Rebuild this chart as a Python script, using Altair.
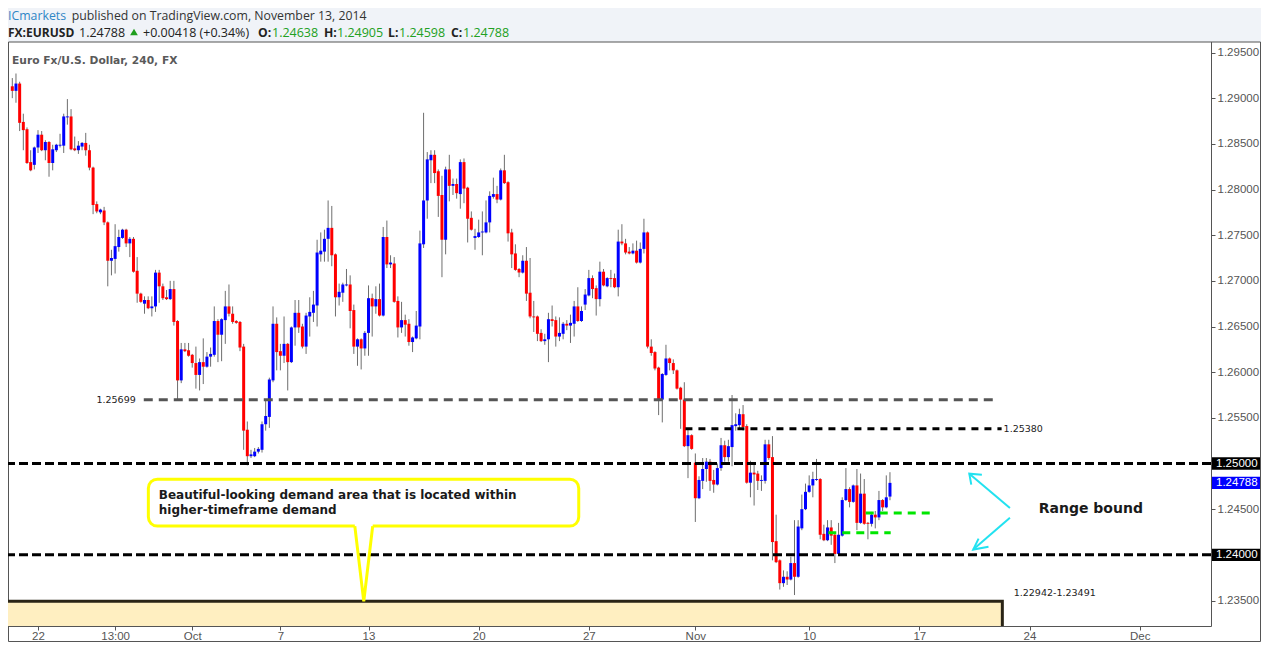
import json
import altair as alt
import pandas as pd

# ---------------- data (EURUSD, 4H candles) ----------------
OPEN = [
    1.2913, 1.2908, 1.2916, 1.2874, 1.2866, 1.2830, 1.2827, 1.2846, 1.2860, 1.2843,
    1.2852, 1.2829, 1.2843, 1.2848, 1.2848, 1.2879, 1.2880, 1.2845, 1.2843, 1.2847,
    1.2851, 1.2843, 1.2824, 1.2784, 1.2775, 1.2777, 1.2764, 1.2722, 1.2724, 1.2737,
    1.2747, 1.2756, 1.2741, 1.2746, 1.2711, 1.2686, 1.2675, 1.2679, 1.2670, 1.2672,
    1.2709, 1.2694, 1.2682, 1.2680, 1.2691, 1.2656, 1.2591, 1.2625, 1.2624, 1.2619,
    1.2610, 1.2597, 1.2611, 1.2606, 1.2617, 1.2619, 1.2656, 1.2641, 1.2657, 1.2672,
    1.2664, 1.2656, 1.2655, 1.2628, 1.2537, 1.2508, 1.2508, 1.2513, 1.2515, 1.2543,
    1.2551, 1.2591, 1.2653, 1.2623, 1.2618, 1.2631, 1.2611, 1.2649, 1.2665, 1.2650,
    1.2628, 1.2661, 1.2665, 1.2673, 1.2729, 1.2732, 1.2746, 1.2758, 1.2729, 1.2682,
    1.2687, 1.2695, 1.2696, 1.2668, 1.2628, 1.2636, 1.2626, 1.2643, 1.2681, 1.2672,
    1.2680, 1.2662, 1.2748, 1.2718, 1.2719, 1.2678, 1.2649, 1.2657, 1.2653, 1.2633,
    1.2637, 1.2650, 1.2740, 1.2788, 1.2832, 1.2838, 1.2820, 1.2794, 1.2745, 1.2822,
    1.2804, 1.2806, 1.2795, 1.2830, 1.2802, 1.2769, 1.2747, 1.2748, 1.2753, 1.2753,
    1.2764, 1.2792, 1.2795, 1.2789, 1.2821, 1.2808, 1.2753, 1.2730, 1.2713, 1.2709,
    1.2722, 1.2687, 1.2661, 1.2661, 1.2643, 1.2634, 1.2636, 1.2658, 1.2657, 1.2639,
    1.2642, 1.2653, 1.2651, 1.2653, 1.2672, 1.2656, 1.2674, 1.2684, 1.2703, 1.2692,
    1.2680, 1.2710, 1.2694, 1.2703, 1.2703, 1.2693, 1.2743, 1.2741, 1.2732, 1.2730,
    1.2733, 1.2720, 1.2735, 1.2753, 1.2628, 1.2622, 1.2605, 1.2570, 1.2597, 1.2615,
    1.2610, 1.2602, 1.2583, 1.2570, 1.2519, 1.2531, 1.2501, 1.2462, 1.2481, 1.2494,
    1.2502, 1.2482, 1.2477, 1.2495, 1.2520, 1.2507, 1.2518, 1.2541, 1.2542, 1.2554,
    1.2541, 1.2479, 1.2490, 1.2489, 1.2481, 1.2481, 1.2521, 1.2507, 1.2415, 1.2394,
    1.2369, 1.2376, 1.2373, 1.2391, 1.2376, 1.2429, 1.2450, 1.2469, 1.2476, 1.2482,
    1.2483, 1.2423, 1.2416, 1.2430, 1.2422, 1.2401, 1.2421, 1.2460, 1.2472, 1.2458,
    1.2476, 1.2435, 1.2467, 1.2435, 1.2434, 1.2444, 1.2441, 1.2460, 1.2452, 1.24638,
]
HIGH = [
    1.2922, 1.2927, 1.2918, 1.2883, 1.2868, 1.2843, 1.2847, 1.2865, 1.2864, 1.2854,
    1.2853, 1.2849, 1.2850, 1.2861, 1.2883, 1.2899, 1.2888, 1.2858, 1.2853, 1.2852,
    1.2862, 1.2849, 1.2825, 1.2787, 1.2779, 1.2781, 1.2765, 1.2734, 1.2762, 1.2756,
    1.2757, 1.2757, 1.2748, 1.2748, 1.2726, 1.2687, 1.2683, 1.2683, 1.2683, 1.2712,
    1.2712, 1.2697, 1.2690, 1.2700, 1.2700, 1.2657, 1.2632, 1.2632, 1.2632, 1.2620,
    1.2628, 1.2615, 1.2637, 1.2622, 1.2627, 1.2672, 1.2658, 1.2659, 1.2689, 1.2696,
    1.2672, 1.2657, 1.2656, 1.2631, 1.2546, 1.2515, 1.2517, 1.2518, 1.2546, 1.2569,
    1.2594, 1.2672, 1.2660, 1.2631, 1.2661, 1.2632, 1.2650, 1.2679, 1.2679, 1.2653,
    1.2665, 1.2682, 1.2689, 1.2745, 1.2753, 1.2756, 1.2788, 1.2782, 1.2730, 1.2697,
    1.2698, 1.2713, 1.2706, 1.2674, 1.2637, 1.2637, 1.2645, 1.2695, 1.2686, 1.2694,
    1.2697, 1.2759, 1.2766, 1.2728, 1.2726, 1.2683, 1.2677, 1.2663, 1.2658, 1.2639,
    1.2667, 1.2755, 1.2884, 1.2841, 1.2843, 1.2843, 1.2822, 1.2815, 1.2825, 1.2838,
    1.2812, 1.2812, 1.2833, 1.2834, 1.2803, 1.2776, 1.2757, 1.2767, 1.2776, 1.2788,
    1.2798, 1.2813, 1.2804, 1.2823, 1.2838, 1.2809, 1.2757, 1.2740, 1.2714, 1.2728,
    1.2737, 1.2725, 1.2678, 1.2662, 1.2647, 1.2642, 1.2665, 1.2673, 1.2661, 1.2660,
    1.2655, 1.2657, 1.2663, 1.2678, 1.2693, 1.2672, 1.2691, 1.2712, 1.2706, 1.2695,
    1.2721, 1.2713, 1.2704, 1.2712, 1.2708, 1.2756, 1.2762, 1.2746, 1.2737, 1.2741,
    1.2744, 1.2742, 1.2768, 1.2754, 1.2636, 1.2623, 1.2606, 1.2599, 1.2630, 1.2616,
    1.2614, 1.2603, 1.2584, 1.2589, 1.2537, 1.2532, 1.2511, 1.2486, 1.2506, 1.2506,
    1.2505, 1.2493, 1.2500, 1.2528, 1.2525, 1.2526, 1.2575, 1.2555, 1.2560, 1.2564,
    1.2543, 1.2503, 1.2500, 1.2492, 1.2487, 1.2526, 1.2526, 1.2530, 1.2444, 1.2395,
    1.2383, 1.2382, 1.2398, 1.2438, 1.2438, 1.2466, 1.2478, 1.2487, 1.2491, 1.2505,
    1.2484, 1.2433, 1.2438, 1.2438, 1.2423, 1.2435, 1.2463, 1.2495, 1.2474, 1.2477,
    1.2494, 1.2489, 1.2483, 1.2436, 1.2447, 1.2448, 1.2470, 1.2461, 1.2487, 1.24905,
]
LOW = [
    1.2900, 1.2895, 1.2864, 1.2843, 1.2828, 1.2820, 1.2822, 1.2840, 1.2842, 1.2832,
    1.2814, 1.2821, 1.2841, 1.2846, 1.2840, 1.2871, 1.2843, 1.2842, 1.2839, 1.2843,
    1.2837, 1.2821, 1.2773, 1.2774, 1.2773, 1.2761, 1.2694, 1.2706, 1.2708, 1.2732,
    1.2746, 1.2737, 1.2726, 1.2709, 1.2676, 1.2676, 1.2664, 1.2669, 1.2661, 1.2666,
    1.2676, 1.2679, 1.2679, 1.2679, 1.2651, 1.2569, 1.2588, 1.2622, 1.2617, 1.2605,
    1.2582, 1.2580, 1.2587, 1.2605, 1.2606, 1.2617, 1.2611, 1.2612, 1.2631, 1.2661,
    1.2653, 1.2653, 1.2623, 1.2515, 1.2498, 1.2506, 1.2507, 1.2511, 1.2512, 1.2536,
    1.2539, 1.2589, 1.2602, 1.2602, 1.2610, 1.2580, 1.2610, 1.2629, 1.2643, 1.2626,
    1.2620, 1.2639, 1.2655, 1.2650, 1.2721, 1.2721, 1.2721, 1.2716, 1.2661, 1.2673,
    1.2677, 1.2694, 1.2648, 1.2620, 1.2607, 1.2603, 1.2618, 1.2618, 1.2639, 1.2664,
    1.2661, 1.2661, 1.2714, 1.2714, 1.2676, 1.2638, 1.2643, 1.2639, 1.2629, 1.2622,
    1.2636, 1.2636, 1.2736, 1.2768, 1.2807, 1.2807, 1.2770, 1.2704, 1.2729, 1.2787,
    1.2794, 1.2790, 1.2779, 1.2785, 1.2742, 1.2755, 1.2734, 1.2747, 1.2728, 1.2752,
    1.2753, 1.2790, 1.2785, 1.2788, 1.2806, 1.2743, 1.2714, 1.2711, 1.2704, 1.2708,
    1.2678, 1.2659, 1.2644, 1.2634, 1.2633, 1.2630, 1.2611, 1.2650, 1.2628, 1.2634,
    1.2636, 1.2646, 1.2632, 1.2639, 1.2655, 1.2655, 1.2668, 1.2683, 1.2681, 1.2662,
    1.2672, 1.2694, 1.2693, 1.2693, 1.2692, 1.2683, 1.2739, 1.2729, 1.2729, 1.2729,
    1.2719, 1.2719, 1.2730, 1.2626, 1.2618, 1.2602, 1.2553, 1.2545, 1.2596, 1.2602,
    1.2598, 1.2581, 1.2538, 1.2518, 1.2484, 1.2515, 1.2436, 1.2461, 1.2472, 1.2480,
    1.2470, 1.2468, 1.2476, 1.2492, 1.2502, 1.2502, 1.2497, 1.2536, 1.2537, 1.2536,
    1.2478, 1.2463, 1.2454, 1.2471, 1.2470, 1.2478, 1.2504, 1.2394, 1.2391, 1.2362,
    1.2365, 1.2367, 1.2372, 1.2356, 1.2375, 1.2427, 1.2449, 1.2468, 1.2463, 1.2481,
    1.2417, 1.2415, 1.2415, 1.2411, 1.2391, 1.2400, 1.2420, 1.2459, 1.2452, 1.2457,
    1.2427, 1.2434, 1.2433, 1.2417, 1.2431, 1.2429, 1.2438, 1.2448, 1.2451, 1.24598,
]
CLOSE = [
    1.2908, 1.2916, 1.2873, 1.2865, 1.2829, 1.2821, 1.2846, 1.2860, 1.2843, 1.2852,
    1.2829, 1.2844, 1.2849, 1.2849, 1.2880, 1.2880, 1.2844, 1.2843, 1.2848, 1.2851,
    1.2843, 1.2824, 1.2783, 1.2776, 1.2778, 1.2764, 1.2722, 1.2725, 1.2738, 1.2748,
    1.2756, 1.2741, 1.2746, 1.2710, 1.2686, 1.2677, 1.2679, 1.2670, 1.2672, 1.2709,
    1.2694, 1.2681, 1.2680, 1.2691, 1.2655, 1.2591, 1.2625, 1.2623, 1.2618, 1.2610,
    1.2597, 1.2611, 1.2606, 1.2617, 1.2620, 1.2656, 1.2641, 1.2658, 1.2672, 1.2664,
    1.2655, 1.2654, 1.2627, 1.2536, 1.2508, 1.2510, 1.2513, 1.2516, 1.2543, 1.2552,
    1.2592, 1.2653, 1.2622, 1.2618, 1.2631, 1.2611, 1.2649, 1.2665, 1.2649, 1.2628,
    1.2662, 1.2666, 1.2674, 1.2731, 1.2733, 1.2746, 1.2758, 1.2728, 1.2682, 1.2688,
    1.2696, 1.2696, 1.2667, 1.2628, 1.2636, 1.2626, 1.2643, 1.2681, 1.2672, 1.2680,
    1.2662, 1.2748, 1.2718, 1.2720, 1.2677, 1.2649, 1.2657, 1.2652, 1.2633, 1.2638,
    1.2651, 1.2741, 1.2788, 1.2833, 1.2838, 1.2818, 1.2793, 1.2745, 1.2822, 1.2804,
    1.2806, 1.2796, 1.2830, 1.2801, 1.2768, 1.2756, 1.2749, 1.2753, 1.2754, 1.2764,
    1.2793, 1.2795, 1.2789, 1.2821, 1.2807, 1.2752, 1.2729, 1.2712, 1.2709, 1.2722,
    1.2686, 1.2661, 1.2660, 1.2642, 1.2634, 1.2636, 1.2658, 1.2656, 1.2639, 1.2643,
    1.2653, 1.2651, 1.2654, 1.2672, 1.2656, 1.2667, 1.2685, 1.2703, 1.2691, 1.2680,
    1.2710, 1.2695, 1.2703, 1.2702, 1.2693, 1.2743, 1.2741, 1.2731, 1.2730, 1.2733,
    1.2720, 1.2735, 1.2753, 1.2628, 1.2621, 1.2604, 1.2570, 1.2598, 1.2615, 1.2610,
    1.2602, 1.2582, 1.2570, 1.2519, 1.2531, 1.2516, 1.2462, 1.2482, 1.2494, 1.2502,
    1.2481, 1.2477, 1.2495, 1.2520, 1.2507, 1.2519, 1.2542, 1.2543, 1.2554, 1.2540,
    1.2479, 1.2490, 1.2488, 1.2481, 1.2482, 1.2521, 1.2506, 1.2414, 1.2392, 1.2369,
    1.2376, 1.2373, 1.2391, 1.2376, 1.2431, 1.2450, 1.2469, 1.2476, 1.2483, 1.2483,
    1.2422, 1.2416, 1.2430, 1.2421, 1.2401, 1.2422, 1.2460, 1.2472, 1.2458, 1.2476,
    1.2435, 1.2467, 1.2434, 1.2434, 1.2444, 1.2441, 1.2460, 1.2452, 1.2463, 1.24788,
]

# time axis: bar index of each labelled tick, and its label
TICK_POS = [7, 28, 49, 73, 97, 127, 157, 186, 217, 247, 277, 307]
TICK_LABELS = ["22", "13:00", "Oct", "7", "13", "20", "27", "Nov", "10", "17", "24", "Dec"]
# price axis labels (1.24000 and 1.25000 are shown in the black price boxes)
PRICE_TICKS = [1.235, 1.245, 1.255, 1.260, 1.265, 1.270,
               1.275, 1.280, 1.285, 1.290, 1.295]

# drawn levels
GREY_LEVEL = {"p": [1.25699], "x0": [35.8], "x1": [268.0]}
BLACK_LEVEL = {"p": [1.25380], "x0": [183.3], "x1": [269.4]}
MAJOR_LEVELS = [1.25000, 1.24000]
GREEN_LEVELS = {"p": [1.24459, 1.24241], "x0": [232.4, 222.2], "x1": [250.0, 239.2]}
ZONE = {"x0": [-5.0], "x1": [269.6], "p0": [1.22942], "p1": [1.23491]}
PRICE_BOX_P = [1.25000, 1.24788, 1.24000]
PRICE_BOX_TEXT = ["1.25000", "1.24788", "1.24000"]
PRICE_BOX_COLOR = ["#000000", "#0000ff", "#000000"]

# annotations (bar index / price)
CALLOUT = {"x0": [37.05], "x1": [154.25], "p0": [1.24315], "p1": [1.24829]}
POINTER = {"i": [93.27, 95.71, 98.14], "p": [1.24315, 1.23490, 1.24315], "top": [1.24342] * 3}
CALLOUT_TEXT = {"i": [39.9, 39.9], "p": [1.24654, 1.24490],
                "t": ["Beautiful-looking demand area that is located within",
                      "higher-timeframe demand"]}
ARROW_SEG = [0, 0, 1, 1, 1, 2, 2, 3, 3, 3]
ARROW_K = [0, 1, 0, 1, 2, 0, 1, 0, 1, 2]
ARROW_I = [271.67, 260.6, 264.03, 260.6, 261.14, 271.67, 261.67, 265.83, 261.67, 263.13]
ARROW_P = [1.24514, 1.24889, 1.24878, 1.24889, 1.24769, 1.24405, 1.24058, 1.24088, 1.24058, 1.24178]

# ---------------- chart ----------------
W, H = 1203, 584
XS = alt.Scale(domain=[0.19, 325.06], nice=False, zero=False)
YS = alt.Scale(domain=[1.23221, 1.29615], nice=False, zero=False)

label_expr = f"{json.dumps(TICK_LABELS)}[indexof({json.dumps(TICK_POS)}, datum.value)]"
AX_X = alt.Axis(values=TICK_POS, labelExpr=label_expr, title=None, grid=False, domain=False,
                tickColor="#555555", tickSize=4, labelColor="#555555", labelFont="Liberation Sans",
                labelFontSize=11.5, labelPadding=0, labelFlush=False, labelOverlap=False, zindex=2)
AX_Y = alt.Axis(orient="right", values=PRICE_TICKS, format=".5f", title=None, grid=False,
                domain=False, tickColor="#555555", tickSize=4, labelColor="#555555",
                labelFont="Liberation Sans", labelFontSize=11.5, labelPadding=2,
                labelFlush=False, labelOverlap=False, zindex=1)


def X(f):
    return alt.X(f"{f}:Q", scale=XS, axis=AX_X)


def Y(f):
    return alt.Y(f"{f}:Q", scale=YS, axis=AX_Y)


n = min(len(OPEN), len(HIGH), len(LOW), len(CLOSE))
candles = pd.DataFrame({"i": list(range(n)), "o": OPEN[:n], "h": HIGH[:n],
                        "l": LOW[:n], "c": CLOSE[:n]})
candles["col"] = ["#0000ff" if c >= o else "#ff0000" for o, c in zip(candles.o, candles.c)]

ONE = pd.DataFrame({"k": [0]})
YELLOW = "#ffff00"
CYAN = "#22e2f0"
GREEN = "#00e600"

layers = []

# outer white frame (plot + axes)
layers.append(alt.Chart(ONE).mark_rect(fill="white", stroke="#555555", strokeWidth=1).encode(
    x=alt.value(0.5), x2=alt.value(W + 49.5), y=alt.value(0), y2=alt.value(H + 15.5)))

# demand zone
layers.append(alt.Chart(pd.DataFrame(ZONE)).mark_rect(
    fill="#ffefc1", stroke="#2a2416", strokeWidth=3, clip=True).encode(
    x=X("x0"), x2="x1", y=Y("p0"), y2="p1"))

# callout box and pointer fill
layers.append(alt.Chart(pd.DataFrame(CALLOUT)).mark_rect(
    fill="white", stroke=YELLOW, strokeWidth=3, cornerRadius=9).encode(
    x=X("x0"), x2="x1", y=Y("p0"), y2="p1"))
layers.append(alt.Chart(pd.DataFrame(POINTER)).mark_area(color="white", opacity=1).encode(
    x=X("i"), y=Y("p"), y2="top"))

# candles
layers.append(alt.Chart(candles).mark_rule(color="#6e6e6e", strokeWidth=1, clip=True).encode(
    x=X("i"), y=Y("l"), y2="h"))
layers.append(alt.Chart(candles).mark_bar(size=3, clip=True).encode(
    x=X("i"), y=Y("o"), y2="c", color=alt.Color("col:N", scale=None)))

# levels
layers.append(alt.Chart(pd.DataFrame(GREY_LEVEL)).mark_rule(
    color="#555555", strokeWidth=3, strokeDash=[9, 6], clip=True).encode(
    x=X("x0"), x2="x1", y=Y("p")))
layers.append(alt.Chart(pd.DataFrame(BLACK_LEVEL)).mark_rule(
    color="#000000", strokeWidth=3, strokeDash=[7, 6], clip=True).encode(
    x=X("x0"), x2="x1", y=Y("p")))
layers.append(alt.Chart(pd.DataFrame({"p": MAJOR_LEVELS})).mark_rule(
    color="#000000", strokeWidth=3, strokeDash=[9, 4], clip=True).encode(y=Y("p")))
layers.append(alt.Chart(pd.DataFrame(GREEN_LEVELS)).mark_rule(
    color=GREEN, strokeWidth=3, strokeDash=[8, 6], clip=True).encode(
    x=X("x0"), x2="x1", y=Y("p")))

# pointer outline
layers.append(alt.Chart(pd.DataFrame(POINTER)).mark_line(
    color=YELLOW, strokeWidth=3, strokeJoin="miter").encode(x=X("i"), y=Y("p")))

# arrows
arrows = pd.DataFrame({"seg": ARROW_SEG, "k": ARROW_K, "i": ARROW_I, "p": ARROW_P})
layers.append(alt.Chart(arrows).mark_line(color=CYAN, strokeWidth=2, clip=True).encode(
    x=X("i"), y=Y("p"), detail="seg:N", order="k:Q"))

# level labels
lbl_style = dict(font="DejaVu Sans", fontSize=9.5, color="#222222", baseline="middle")
layers.append(alt.Chart(pd.DataFrame({"i": [35.8], "p": [1.25699], "t": ["1.25699"]})).mark_text(
    align="right", dx=-8, **lbl_style).encode(x=X("i"), y=Y("p"), text="t:N"))
layers.append(alt.Chart(pd.DataFrame({"i": [269.4], "p": [1.25380], "t": ["1.25380"]})).mark_text(
    align="left", dx=2, **lbl_style).encode(x=X("i"), y=Y("p"), text="t:N"))
layers.append(alt.Chart(pd.DataFrame({"i": [272.7], "p": [1.23577], "t": ["1.22942-1.23491"]})).mark_text(
    align="left", **lbl_style).encode(x=X("i"), y=Y("p"), text="t:N"))

# callout text and "Range bound"
layers.append(alt.Chart(pd.DataFrame(CALLOUT_TEXT)).mark_text(
    align="left", baseline="middle", font="DejaVu Sans", fontSize=12, fontWeight="bold",
    color="#1a1a1a").encode(x=X("i"), y=Y("p"), text="t:N"))
layers.append(alt.Chart(pd.DataFrame({"i": [293.7], "p": [1.24507], "t": ["Range bound"]})).mark_text(
    align="center", baseline="middle", font="DejaVu Sans", fontSize=14, fontWeight="bold",
    color="#1a1a1a").encode(x=X("i"), y=Y("p"), text="t:N"))

# plot-area borders (right and bottom)
layers.append(alt.Chart(ONE).mark_rule(color="#555555", strokeWidth=1).encode(
    x=alt.value(W + 0.5), y=alt.value(0), y2=alt.value(H + 0.5)))
layers.append(alt.Chart(ONE).mark_rule(color="#555555", strokeWidth=1).encode(
    x=alt.value(0), x2=alt.value(W + 0.5), y=alt.value(H + 0.5)))

# price boxes on the price axis
pb = pd.DataFrame({"p": PRICE_BOX_P, "t": PRICE_BOX_TEXT, "col": PRICE_BOX_COLOR})
layers.append(alt.Chart(pb).transform_calculate(
    lo="datum.p - 0.00068", hi="datum.p + 0.00068").mark_rect().encode(
    x=alt.value(W + 1), x2=alt.value(W + 49), y=Y("lo"), y2="hi:Q",
    color=alt.Color("col:N", scale=None)))
layers.append(alt.Chart(pb).mark_text(
    align="left", baseline="middle", font="Liberation Sans", fontSize=11.5, color="white").encode(
    x=alt.value(W + 5), y=Y("p"), text="t:N"))

# header texts (pixel positions above the plot)
L1, L2 = -26, -9.5
HEADER = [
    ("ICmarkets", 0, L1, "normal", "#2f86c6", "Open Sans", 12.3),
    ("published on TradingView.com, November 13, 2014", 63.7, L1, "normal", "#333333", "Open Sans", 12.3),
    ("FX:EURUSD", 0, L2, "bold", "#222222", "Open Sans", 12),
    ("1.24788", 71, L2, "normal", "#222222", "Open Sans", 12.5),
    ("+0.00418 (+0.34%)", 135, L2, "normal", "#222222", "Open Sans", 12.5),
    ("O:", 250, L2, "bold", "#222222", "Open Sans", 12.2),
    ("1.24638", 264, L2, "normal", "#22a022", "Open Sans", 12.5),
    ("H:", 316, L2, "bold", "#222222", "Open Sans", 12.2),
    ("1.24905", 329, L2, "normal", "#22a022", "Open Sans", 12.5),
    ("L:", 380, L2, "bold", "#222222", "Open Sans", 12.2),
    ("1.24598", 391, L2, "normal", "#22a022", "Open Sans", 12.5),
    ("C:", 443, L2, "bold", "#222222", "Open Sans", 12.2),
    ("1.24788", 455, L2, "normal", "#22a022", "Open Sans", 12.5),
    ("Euro Fx/U.S. Dollar, 240, FX", 4, 19, "bold", "#5a5a5a", "DejaVu Sans", 10.7),
]
for txt, hx, hy, wt, col, fnt, fs in HEADER:
    layers.append(alt.Chart(ONE).mark_text(
        text=txt, align="left", baseline="middle", font=fnt, fontSize=fs, fontWeight=wt,
        color=col).encode(x=alt.value(hx), y=alt.value(hy)))
layers.append(alt.Chart(ONE).mark_point(
    shape="triangle-up", filled=True, color="#1e9e1e", size=60, opacity=1).encode(
    x=alt.value(126), y=alt.value(L2 - 0.5)))

chart = alt.layer(*layers).properties(
    width=W, height=H, background="#f0f3f8",
    padding={"left": 0, "top": 34, "right": 50, "bottom": 16},
    autosize=alt.AutoSizeParams(type="none"),
).configure_view(stroke=None)

chart.save("out.html", embed_options={"renderer": "svg", "actions": False})
